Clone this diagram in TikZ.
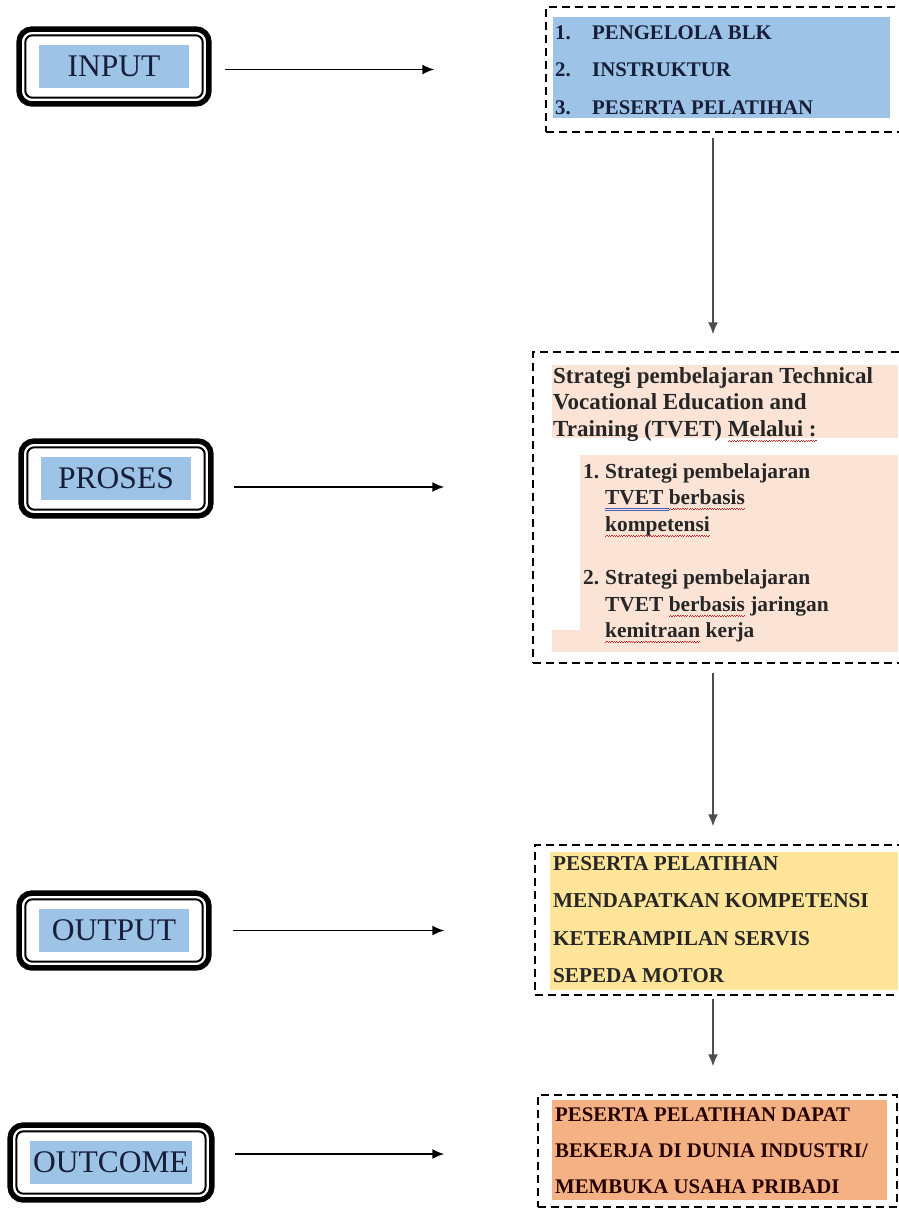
\documentclass[tikz,border=0pt]{standalone}
\usepackage{fontspec}
\setmainfont{Liberation Serif}
\usetikzlibrary{arrows.meta,fit}
\tikzset{>={Latex[length=12pt,width=10pt]}}
\definecolor{tagblue}{RGB}{157,195,230}
\definecolor{peach}{RGB}{251,228,214}
\definecolor{gold}{RGB}{255,229,153}
\definecolor{salmon}{RGB}{244,177,131}
\definecolor{ink}{RGB}{22,30,58}
\definecolor{spellred}{RGB}{200,40,40}
\definecolor{gramblue}{RGB}{70,90,190}
\tikzstyle{tag} = [fill=tagblue, text=ink, minimum width=150pt, minimum height=43pt, inner sep=3pt, font=\fontsize{31.5}{31.5}\selectfont]
\tikzstyle{frame} = [draw, line width=5.5pt, rounded corners=13pt, inner xsep=19.75pt, inner ysep=15.75pt]
\tikzstyle{zone} = [draw, line width=1.4pt, dash pattern=on 8pt off 5pt, inner sep=0pt]
\tikzstyle{list} = [anchor=north west, inner sep=0pt, align=left, text=black!85]
\tikzstyle{flow} = [->, line width=1.8pt]
\tikzstyle{down} = [->, line width=1.6pt, draw=black!70]
% spell-check marks under words
\newcommand\spell[1]{\setbox0\hbox{#1}\rlap{\textcolor{spellred}{\hbox to\wd0{\xleaders\hbox{\rule[-5.5pt]{1.2pt}{0.7pt}\rule[-4.3pt]{1.2pt}{0.7pt}}\hfil}}}\box0\relax}
\newcommand\gram[1]{\setbox0\hbox{#1}\rlap{\textcolor{gramblue}{\rule[-4.3pt]{\wd0}{0.7pt}}}\rlap{\textcolor{gramblue}{\rule[-6.3pt]{\wd0}{0.7pt}}}\box0\relax}

\begin{document}
\begin{tikzpicture}[x=1pt,y=-1pt]
\path[use as bounding box, fill=white] (0,0) rectangle (898,1209);

% Left labels
\node[tag] (input) at (114,66.5) {INPUT};
\node[tag] (proses) at (116,478.5) {PROSES};
\node[tag] (output) at (114,930.5) {OUTPUT};
\node[tag] (outcome) at (111,1162.5) {OUTCOME};
\foreach \n in {input,proses,output,outcome}
{
	\node[frame, fit=(\n)] (box-\n) {};
	\draw[line width=2pt, rounded corners=7pt] ([shift={(9pt,-9pt)}]box-\n.north west) rectangle ([shift={(-9pt,9pt)}]box-\n.south east);
}

% Coloured backgrounds
\fill[tagblue] (553,17) rectangle (890,118);
\fill[peach] (552,365) rectangle (898,438);
\fill[peach] (580,455) rectangle (898,652);
\fill[peach] (552,630) rectangle (580,652);
\fill[gold] (550,852) rectangle (898,990);
\fill[salmon] (552,1100) rectangle (887,1200);

% Dashed frames
\node[zone, minimum width=359pt, minimum height=125pt] (actorsframe) at (725.5,69.5) {};
\node[zone, minimum width=372pt, minimum height=311pt] (strategyframe) at (719,507.5) {};
\node[zone, minimum width=370pt, minimum height=150pt] (skillsframe) at (720,920) {};
\node[zone, minimum width=359pt, minimum height=112pt] (jobsframe) at (717.5,1151) {};

% Texts
\node[list, text=ink, font=\bfseries\fontsize{20.8}{37.5}\selectfont] (actors) at (555,25.5)
	{\makebox[37pt][l]{1.}PENGELOLA BLK\\ \makebox[37pt][l]{2.}INSTRUKTUR\\ \makebox[37pt][l]{3.}PESERTA PELATIHAN};
\node[list, font=\bfseries\fontsize{23}{26.5}\selectfont] (strathead) at (553,367)
	{Strategi pembelajaran Technical\\ Vocational Education and\\ Training (TVET) \spell{Melalui :}};
\node[list, font=\bfseries\fontsize{21.4}{26.5}\selectfont] (stratitems) at (583,463)
	{\makebox[22pt][l]{1.}Strategi pembelajaran\\ \hspace*{22pt}\gram{TVET }\spell{berbasis}\\ \hspace*{22pt}\spell{kompetensi}\\[27pt]
	\makebox[22pt][l]{2.}Strategi pembelajaran\\ \hspace*{22pt}TVET \spell{berbasis} jaringan\\ \hspace*{22pt}\spell{kemitraan} kerja};
\node[list, font=\bfseries\fontsize{21.2}{37.5}\selectfont] (skills) at (553,856)
	{PESERTA PELATIHAN\\ MENDAPATKAN KOMPETENSI\\ KETERAMPILAN SERVIS\\ SEPEDA MOTOR};
\node[list, text=black!85!red, font=\bfseries\fontsize{20.8}{36}\selectfont] (jobs) at (555,1108)
	{PESERTA PELATIHAN DAPAT\\ BEKERJA DI DUNIA INDUSTRI/\\ MEMBUKA USAHA PRIBADI};

% Connectors
\coordinate (spine) at (713,0);
\draw[flow, shorten <=13pt, shorten >=111pt] ([yshift=-3pt]box-input.east) -- ([yshift=-3pt]box-input.east -| actorsframe.west);
\draw[flow, shorten <=20pt, shorten >=88pt] ([yshift=-8.5pt]box-proses.east) -- ([yshift=-8.5pt]box-proses.east -| strategyframe.west);
\draw[flow, shorten <=21pt, shorten >=90pt] (box-output.east) -- (box-output.east -| skillsframe.west);
\draw[flow, shorten <=20pt, shorten >=93pt] ([yshift=8.5pt]box-outcome.east) -- ([yshift=8.5pt]box-outcome.east -| jobsframe.west);
\draw[down, shorten <=5pt, shorten >=17pt] (actorsframe.south -| spine) -- (strategyframe.north -| spine);
\draw[down, shorten <=9pt, shorten >=18pt] (strategyframe.south -| spine) -- (skillsframe.north -| spine);
\draw[down, shorten <=3pt, shorten >=28pt] (skillsframe.south -| spine) -- (jobsframe.north -| spine);

\end{tikzpicture}
\end{document}
